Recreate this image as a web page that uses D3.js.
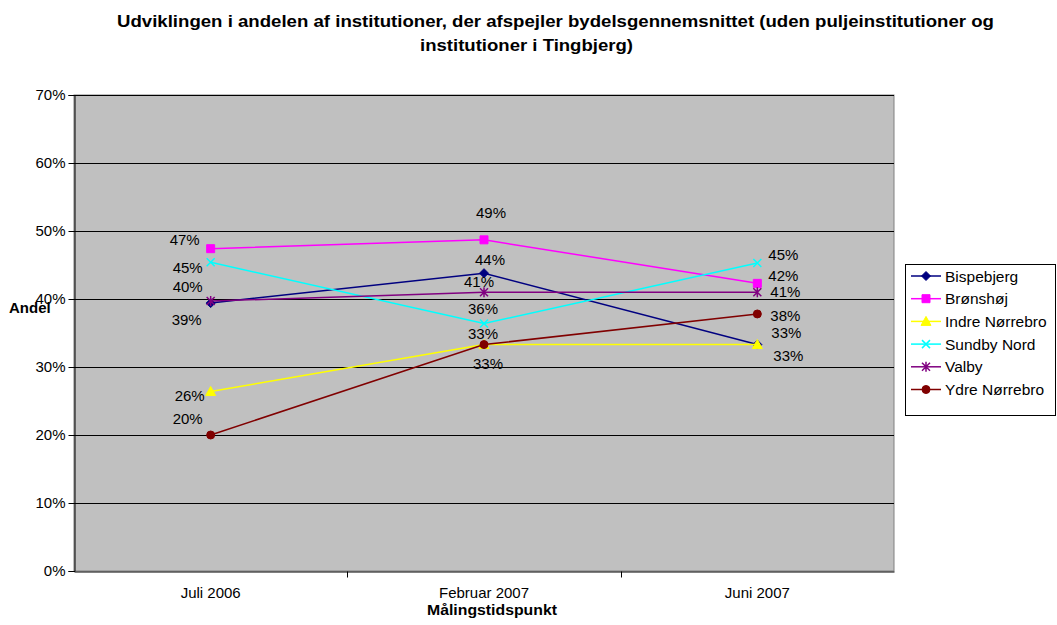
<!DOCTYPE html>
<html><head><meta charset="utf-8">
<script src="https://cdn.jsdelivr.net/npm/d3@7"></script>
<style>body{margin:0;background:#fff;} text{font-family:"Liberation Sans",Arial,sans-serif;}</style>
</head><body><svg id="c" width="1057" height="625"></svg>
<script>
const categories = ["Juli 2006", "Februar 2007", "Juni 2007"];
const seriesNames = ["Bispebjerg", "Brønshøj", "Indre Nørrebro", "Sundby Nord", "Valby", "Ydre Nørrebro"];
const bispebjerg = [0.394, 0.438, 0.333];
const bronshoj = [0.474, 0.487, 0.423];
const indreNorrebro = [0.264, 0.333, 0.333];
const sundbyNord = [0.454, 0.364, 0.453];
const valby = [0.397, 0.410, 0.410];
const ydreNorrebro = [0.200, 0.333, 0.378];
const yTicks = [0, 0.1, 0.2, 0.3, 0.4, 0.5, 0.6, 0.7];
const titleLines = ["Udviklingen i andelen af institutioner, der afspejler bydelsgennemsnittet (uden puljeinstitutioner og", "institutioner i Tingbjerg)"];

const seriesValues = [bispebjerg, bronshoj, indreNorrebro, sundbyNord, valby, ydreNorrebro];
const colors = ["#000080", "#FF00FF", "#FFFF00", "#00FFFF", "#800080", "#800000"];
const markers = ["diamond", "square", "triangle", "x", "star", "circle"];
// label offsets (style/layout), per series per point
const labelOffsets = [
  [[-24, 17], [6, -13], [29, -12]],
  [[-26, -9], [7, -27], [26, -7]],
  [[-21, 5], [4, 19], [31, 11]],
  [[-23, 6], [-1, -14], [26, -8]],
  [[-23, -14], [-5, -10], [28, 0]],
  [[-23, -16], [-1, -11], [28, 2]]
];

const svg = d3.select("#c");
const L = 74, R = 894, T = 95, B = 571;
const x = d3.scaleBand().domain(categories).range([L, R]);
const y = d3.scaleLinear().domain([0, 0.7]).range([B, T]);

svg.append("rect").attr("x", L).attr("y", T).attr("width", R - L).attr("height", B - T)
  .attr("fill", "#C0C0C0").attr("stroke", "#808080").attr("stroke-width", 1);

svg.append("g").selectAll("line").data(yTicks.slice(1)).join("line")
  .attr("x1", L).attr("x2", R).attr("y1", d => Math.round(y(d)) + 0.5).attr("y2", d => Math.round(y(d)) + 0.5)
  .attr("stroke", "#000").attr("stroke-width", 1);

const yAxis = d3.axisLeft(y).tickValues(yTicks).tickFormat(d3.format(".0%")).tickSize(6).tickPadding(3);
const gy = svg.append("g").attr("transform", `translate(${L + 0.5},0)`).call(yAxis);
gy.selectAll("text").attr("font-size", 15).attr("fill", "#000").style("font-family", "Liberation Sans, Arial, sans-serif");
gy.select(".domain").attr("stroke", "#000");

const xAxis = d3.axisBottom(x).tickSize(0).tickPadding(16);
const gx = svg.append("g").attr("transform", `translate(0,${B + 0.5})`).call(xAxis);
gx.selectAll("text").attr("font-size", 15).attr("fill", "#000").style("font-family", "Liberation Sans, Arial, sans-serif");
gx.select(".domain").attr("stroke", "#000");
gx.append("g").selectAll("line").data(categories.slice(1)).join("line")
  .attr("x1", d => Math.round(x(d)) + 0.5).attr("x2", d => Math.round(x(d)) + 0.5).attr("y1", 0).attr("y2", 6).attr("stroke", "#000");

function markerPath(type, cx, cy) {
  switch (type) {
    case "diamond": return `M${cx},${cy-4.5}L${cx+4.5},${cy}L${cx},${cy+4.5}L${cx-4.5},${cy}Z`;
    case "square": return `M${cx-4},${cy-4}h8v8h-8Z`;
    case "triangle": return `M${cx},${cy-5}L${cx+5},${cy+4}L${cx-5},${cy+4}Z`;
    case "x": return `M${cx-4},${cy-4}L${cx+4},${cy+4}M${cx+4},${cy-4}L${cx-4},${cy+4}`;
    case "star": return `M${cx-4},${cy-4}L${cx+4},${cy+4}M${cx+4},${cy-4}L${cx-4},${cy+4}M${cx},${cy-5}L${cx},${cy+5}`;
    case "circle": return `M${cx-4},${cy}a4,4 0 1,0 8,0a4,4 0 1,0 -8,0Z`;
  }
}
const cxOf = c => x(c) + x.bandwidth() / 2;
const line = d3.line().x((d, i) => cxOf(categories[i])).y(d => y(d));

seriesValues.forEach((vals, s) => {
  const g = svg.append("g");
  g.append("path").datum(vals).attr("d", line).attr("fill", "none").attr("stroke", colors[s]).attr("stroke-width", 1.5);
  const open = markers[s] === "x" || markers[s] === "star";
  g.selectAll("path.m").data(vals).join("path").attr("class", "m")
    .attr("d", (d, i) => markerPath(markers[s], cxOf(categories[i]), y(d)))
    .attr("fill", open ? "none" : colors[s]).attr("stroke", colors[s]).attr("stroke-width", open ? 1.5 : 1);
});
seriesValues.forEach((vals, s) => {
  svg.append("g").selectAll("text").data(vals).join("text")
    .attr("x", (d, i) => cxOf(categories[i]) + labelOffsets[s][i][0])
    .attr("y", (d, i) => y(d) + labelOffsets[s][i][1] + 5)
    .attr("text-anchor", "middle").attr("font-size", 15).attr("fill", "#000")
    .text(d => d3.format(".0%")(d));
});

// titles
svg.append("text").attr("x", 117).attr("y", 27).attr("font-size", 17).attr("font-weight", "bold")
  .attr("textLength", 877).attr("lengthAdjust", "spacingAndGlyphs").text(titleLines[0]);
svg.append("text").attr("x", 420).attr("y", 51).attr("font-size", 17).attr("font-weight", "bold")
  .attr("textLength", 213).attr("lengthAdjust", "spacingAndGlyphs").text(titleLines[1]);
svg.append("text").attr("x", 492).attr("y", 615).attr("text-anchor", "middle").attr("font-size", 15).attr("font-weight", "bold")
  .attr("textLength", 130).attr("lengthAdjust", "spacingAndGlyphs").text("Målingstidspunkt");
svg.append("text").attr("x", 9).attr("y", 313).attr("font-size", 15).attr("font-weight", "bold").text("Andel");

// legend
const lg = svg.append("g");
lg.append("rect").attr("x", 905.5).attr("y", 264.5).attr("width", 150).attr("height", 151).attr("fill", "#fff").attr("stroke", "#000");
seriesNames.forEach((n, s) => {
  const ly = 276 + s * 22.7;
  lg.append("line").attr("x1", 911).attr("x2", 941).attr("y1", ly).attr("y2", ly).attr("stroke", colors[s]).attr("stroke-width", 1.5);
  const open = markers[s] === "x" || markers[s] === "star";
  lg.append("path").attr("d", markerPath(markers[s], 926, ly)).attr("fill", open ? "none" : colors[s]).attr("stroke", colors[s]).attr("stroke-width", open ? 1.5 : 1);
  lg.append("text").attr("x", 945).attr("y", ly + 5.5).attr("font-size", 15.5).attr("fill", "#000").text(n);
});
</script></body></html>
